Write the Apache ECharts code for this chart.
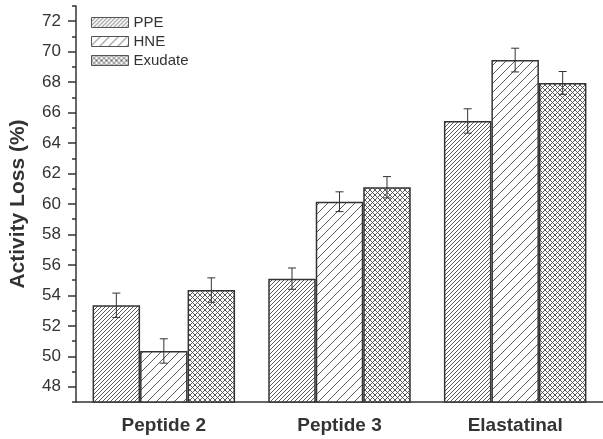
<!DOCTYPE html>
<html>
<head>
<meta charset="utf-8">
<script src="https://cdn.jsdelivr.net/npm/echarts@6/dist/echarts.min.js"></script>
<style>
html,body{margin:0;padding:0;background:#fff;}
#chart{width:603px;height:439px;}
</style>
</head>
<body>
<div id="chart"></div>
<script>
var categories = ['Peptide 2', 'Peptide 3', 'Elastatinal'];
var seriesNames = ['PPE', 'HNE', 'Exudate'];
var ppeValues = [53.35, 55.1, 65.45];
var hneValues = [50.35, 60.15, 69.45];
var exudateValues = [54.35, 61.1, 67.95];
var ppeErrors = [0.8, 0.7, 0.8];
var hneErrors = [0.8, 0.65, 0.78];
var exudateErrors = [0.8, 0.7, 0.75];
var majorTicks = [48, 50, 52, 54, 56, 58, 60, 62, 64, 66, 68, 70, 72];
var minorTicks = [47, 49, 51, 53, 55, 57, 59, 61, 63, 65, 67, 69, 71, 73];

var BAR_W = 47.5;
var INK = '#333';
var FONT = '"Liberation Sans", Arial, sans-serif';

function makePattern(size, kind, lw) {
  var c = document.createElement('canvas');
  c.width = size; c.height = size;
  var g = c.getContext('2d');
  g.fillStyle = '#fff';
  g.fillRect(0, 0, size, size);
  g.strokeStyle = '#4a4a4a';
  g.lineWidth = lw;
  function fwd() {
    g.beginPath();
    g.moveTo(-1, size + 1); g.lineTo(size + 1, -1);
    g.moveTo(-size - 1, size + 1); g.lineTo(1, -1);
    g.moveTo(size - 1, 2 * size + 1); g.lineTo(2 * size + 1, size - 1);
    g.stroke();
  }
  function back() {
    g.beginPath();
    g.moveTo(-1, -1); g.lineTo(size + 1, size + 1);
    g.moveTo(-size - 1, -1); g.lineTo(1, size + 1);
    g.moveTo(size - 1, -1); g.lineTo(2 * size + 1, size + 1);
    g.stroke();
  }
  if (kind === 'fwd') fwd();
  else { fwd(); back(); }
  return { image: c, repeat: 'repeat' };
}

var patterns = [
  makePattern(4, 'fwd', 0.9),
  makePattern(9, 'fwd', 0.9),
  makePattern(5, 'cross', 0.9)
];

var values = [ppeValues, hneValues, exudateValues];
var errors = [ppeErrors, hneErrors, exudateErrors];

var series = [];
seriesNames.forEach(function (name, k) {
  series.push({
    name: name,
    type: 'bar',
    barWidth: BAR_W,
    barGap: '0%',
    data: values[k],
    itemStyle: { color: patterns[k], borderColor: INK, borderWidth: 1.5 },
    emphasis: { disabled: true },
    z: 2
  });
});
seriesNames.forEach(function (name, k) {
  series.push({
    type: 'custom',
    z: 5,
    silent: true,
    data: values[k].map(function (v, i) { return [i, v, errors[k][i]]; }),
    encode: { x: 0, y: 1 },
    renderItem: function (params, api) {
      var i = api.value(0), v = api.value(1), e = api.value(2);
      var top = api.coord([i, v + e]);
      var bot = api.coord([i, v - e]);
      var x = top[0] + (k - 1) * BAR_W;
      var cap = 4;
      var st = { stroke: INK, lineWidth: 1 };
      return {
        type: 'group',
        children: [
          { type: 'line', shape: { x1: x, y1: top[1], x2: x, y2: bot[1] }, style: st },
          { type: 'line', shape: { x1: x - cap, y1: top[1], x2: x + cap, y2: top[1] }, style: st },
          { type: 'line', shape: { x1: x - cap, y1: bot[1], x2: x + cap, y2: bot[1] }, style: st }
        ]
      };
    }
  });
});

var chart = echarts.init(document.getElementById('chart'), null, { renderer: 'canvas' });
chart.setOption({
  animation: false,
  backgroundColor: '#fff',
  textStyle: { fontFamily: FONT },
  legend: {
    data: seriesNames,
    orient: 'vertical',
    left: 91,
    top: 15,
    padding: 0,
    icon: 'rect',
    itemWidth: 37,
    itemHeight: 10,
    itemGap: 4,
    itemStyle: { borderColor: '#555', borderWidth: 1 },
    textStyle: { fontSize: 15, color: INK, fontFamily: FONT },
    selectedMode: false
  },
  grid: { left: 74, top: 6, width: 531, height: 396, containLabel: false },
  xAxis: [
    {
      type: 'category',
      data: categories,
      position: 'bottom',
      axisLine: { lineStyle: { color: INK, width: 1.5 } },
      axisTick: { alignWithLabel: true, length: 7, lineStyle: { color: INK, width: 1.5 } },
      axisLabel: { fontSize: 19, fontWeight: 'bold', color: INK, margin: 14, fontFamily: FONT }
    },
    {
      type: 'category',
      data: categories,
      position: 'bottom',
      axisLine: { show: false },
      axisTick: { length: 3, lineStyle: { color: INK, width: 1.5 } },
      axisLabel: { show: false }
    }
  ],
  yAxis: [
    {
      type: 'value',
      min: 47,
      max: 73,
      interval: 1,
      name: 'Activity Loss (%)',
      nameLocation: 'middle',
      nameGap: 47,
      nameTextStyle: { fontSize: 21, fontWeight: 'bold', color: INK, fontFamily: FONT },
      axisLine: { show: true, lineStyle: { color: INK, width: 1.5 } },
      axisTick: { show: true, length: 8, customValues: majorTicks, lineStyle: { color: INK, width: 1.5 } },
      axisLabel: { fontSize: 17, color: INK, margin: 15, customValues: majorTicks, fontFamily: FONT },
      splitLine: { show: false }
    },
    {
      type: 'value',
      min: 47,
      max: 73,
      interval: 1,
      position: 'left',
      axisLine: { show: false },
      axisTick: { show: true, length: 4, customValues: minorTicks, lineStyle: { color: INK, width: 1.5 } },
      axisLabel: { show: false },
      splitLine: { show: false }
    }
  ],
  series: series
});
</script>
</body>
</html>
